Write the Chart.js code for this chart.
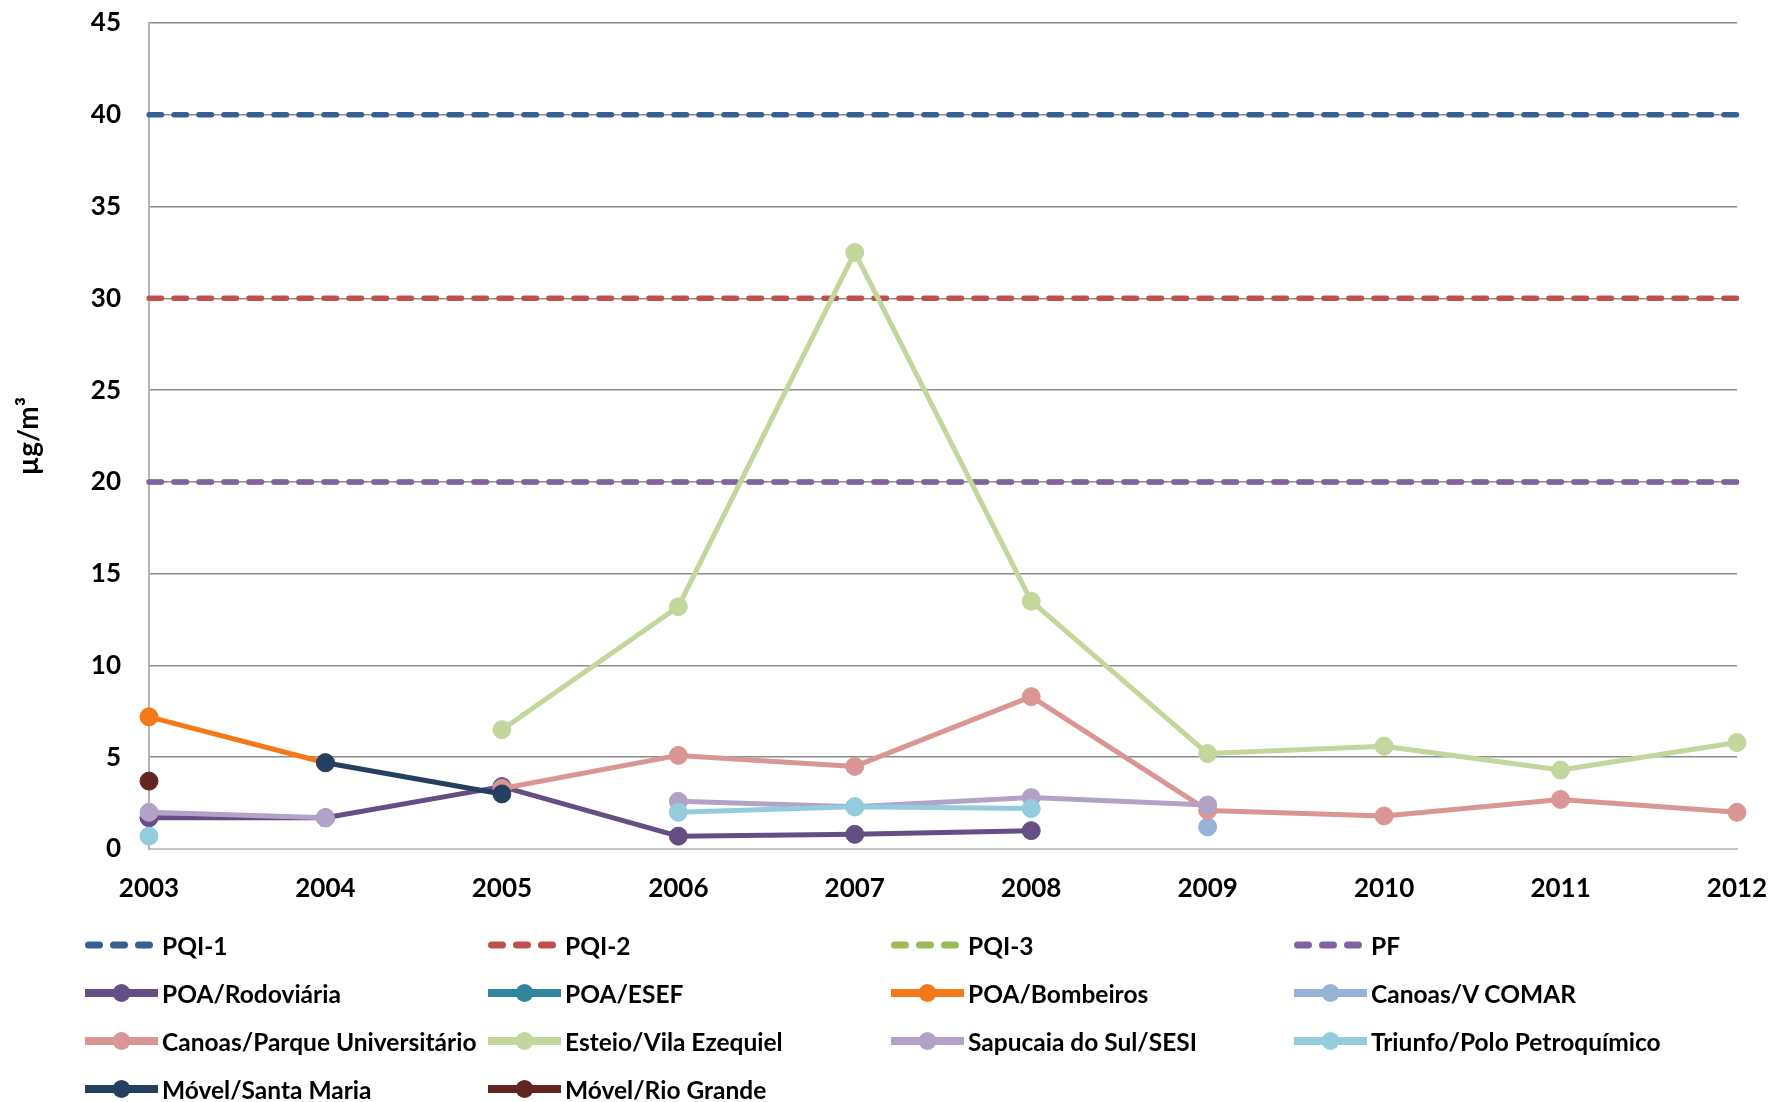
<!DOCTYPE html>
<html>
<head>
<meta charset="utf-8">
<script src="https://cdn.jsdelivr.net/npm/chart.js@4.4.0/dist/chart.umd.min.js"></script>
<style>
  body { margin: 0; background: #fff; font-family: Lato, sans-serif; }
  #wrap { position: relative; width: 1771px; height: 1102px; overflow: hidden; background: #fff; }
  #chartBox { position: absolute; left: 0; top: 0; width: 1771px; height: 1102px; }
  #legend { position: absolute; left: 85px; top: 921px; display: grid; grid-template-columns: repeat(4, 403px); grid-auto-rows: 48px; }
  .item { display: flex; align-items: center; font-weight: bold; font-size: 24.5px; color: #000; white-space: nowrap; }
  .item svg { flex: none; margin-right: 4px; }
</style>
</head>
<body>
<div id="wrap">
  <div id="chartBox"><canvas id="chartCanvas"></canvas></div>
  <div id="legend"></div>
</div>
<script>
// anos no eixo x
const years = ['2003', '2004', '2005', '2006', '2007', '2008', '2009', '2010', '2011', '2012'];

// padroes (linhas tracejadas)
const pqi1 = [40, 40, 40, 40, 40, 40, 40, 40, 40, 40];
const pqi2 = [30, 30, 30, 30, 30, 30, 30, 30, 30, 30];
const pqi3 = [20, 20, 20, 20, 20, 20, 20, 20, 20, 20];
const pf = [20, 20, 20, 20, 20, 20, 20, 20, 20, 20];

// estacoes
const poaRodoviaria = [1.7, 1.7, 3.4, 0.7, 0.8, 1.0, null, null, null, null];
const poaEsef = [null, null, null, null, null, null, null, null, null, null];
const poaBombeiros = [7.2, 4.7, null, null, null, null, null, null, null, null];
const canoasComar = [null, null, null, null, null, null, 1.2, null, null, null];
const canoasParque = [null, null, 3.3, 5.1, 4.5, 8.3, 2.1, 1.8, 2.7, 2.0];
const esteio = [null, null, 6.5, 13.2, 32.5, 13.5, 5.2, 5.6, 4.3, 5.8];
const sapucaia = [2.0, 1.7, null, 2.6, 2.3, 2.8, 2.4, null, null, null];
const triunfo = [0.7, null, null, 2.0, 2.3, 2.2, null, null, null, null];
const santaMaria = [null, 4.7, 3.0, null, null, null, null, null, null, null];
const rioGrande = [3.7, null, null, null, null, null, null, null, null, null];

const seriesNames = ['PQI-1', 'PQI-2', 'PQI-3', 'PF',
    'POA/Rodoviária', 'POA/ESEF', 'POA/Bombeiros', 'Canoas/V COMAR',
    'Canoas/Parque Universitário', 'Esteio/Vila Ezequiel', 'Sapucaia do Sul/SESI', 'Triunfo/Polo Petroquímico',
    'Móvel/Santa Maria', 'Móvel/Rio Grande'];
const seriesValues = [pqi1, pqi2, pqi3, pf,
    poaRodoviaria, poaEsef, poaBombeiros, canoasComar,
    canoasParque, esteio, sapucaia, triunfo,
    santaMaria, rioGrande];
const seriesColors = ['#376092', '#c0504d', '#9bbb59', '#8064a2',
    '#654e84', '#31859c', '#f27818', '#95b3d7',
    '#d99694', '#c3d69b', '#b3a2c7', '#93cddd',
    '#243f60', '#632523'];
const isLimit = [true, true, true, true, false, false, false, false, false, false, false, false, false, false];

const tickFont = { family: 'Lato', size: 26, weight: 'bold' };
const titleFont = { family: 'Lato', size: 28, weight: 'bold' };

const datasets = seriesNames.map((name, i) => {
    const color = seriesColors[i];
    const base = {
        label: name,
        data: seriesValues[i],
        borderColor: color,
        backgroundColor: color,
        // series later in the list are drawn on top, like in the original
        order: seriesNames.length - i,
        spanGaps: false
    };
    if (isLimit[i]) {
        return Object.assign(base, {
            borderWidth: 5.5,
            borderDash: [12.5, 12.5],
            borderCapStyle: 'round',
            pointRadius: 0
        });
    }
    return Object.assign(base, {
        borderWidth: 5,
        borderJoinStyle: 'round',
        pointRadius: 9,
        pointBorderWidth: 1,
        pointBackgroundColor: color,
        pointBorderColor: color
    });
});

function drawChart() {
    const ctx = document.getElementById('chartCanvas').getContext('2d');
    new Chart(ctx, {
        type: 'line',
        data: { labels: years, datasets: datasets },
        options: {
            responsive: true,
            maintainAspectRatio: false,
            animation: false,
            layout: { padding: { left: 0, top: 23, right: 34, bottom: 193 } },
            plugins: {
                legend: { display: false },
                tooltip: { enabled: false }
            },
            scales: {
                x: {
                    grid: { display: false, drawTicks: false },
                    border: { display: true, color: '#c4c4c4', width: 2 },
                    ticks: { color: '#000', font: tickFont, padding: 24, maxRotation: 0, autoSkip: false },
                    afterFit: (axis) => {
                        axis.height = 60;
                        axis.paddingLeft = 0;
                        axis.paddingRight = 0;
                    }
                },
                y: {
                    min: 0,
                    max: 45,
                    ticks: { stepSize: 5, padding: 28, color: '#000', font: tickFont },
                    grid: {
                        color: (c) => (c.tick && c.tick.value === 0) ? 'rgba(0,0,0,0)' : '#8c8c8c',
                        lineWidth: 1.5,
                        drawTicks: false
                    },
                    border: { color: '#b4b4b4', width: 2 },
                    title: { display: true, text: 'µg/m³', color: '#000', font: titleFont, padding: { top: 12, bottom: 0 } },
                    afterFit: (axis) => {
                        axis.width = 149;
                        axis.paddingTop = 0;
                        axis.paddingBottom = 0;
                    }
                }
            }
        }
    });
}

function buildLegend() {
    const legend = document.getElementById('legend');
    seriesNames.forEach((name, i) => {
        const color = seriesColors[i];
        let svg;
        if (isLimit[i]) {
            svg = '<svg width="73" height="24"><line x1="3.5" y1="12" x2="69.5" y2="12" stroke="' + color +
                '" stroke-width="7" stroke-linecap="round" stroke-dasharray="11 14"/></svg>';
        } else {
            svg = '<svg width="73" height="24"><line x1="0" y1="12" x2="73" y2="12" stroke="' + color +
                '" stroke-width="8" stroke-linecap="round"/><circle cx="36.5" cy="12" r="9" fill="' + color + '"/></svg>';
        }
        const item = document.createElement('div');
        item.className = 'item';
        item.innerHTML = svg + '<span>' + name + '</span>';
        legend.appendChild(item);
    });
}

buildLegend();
drawChart();
</script>
</body>
</html>
